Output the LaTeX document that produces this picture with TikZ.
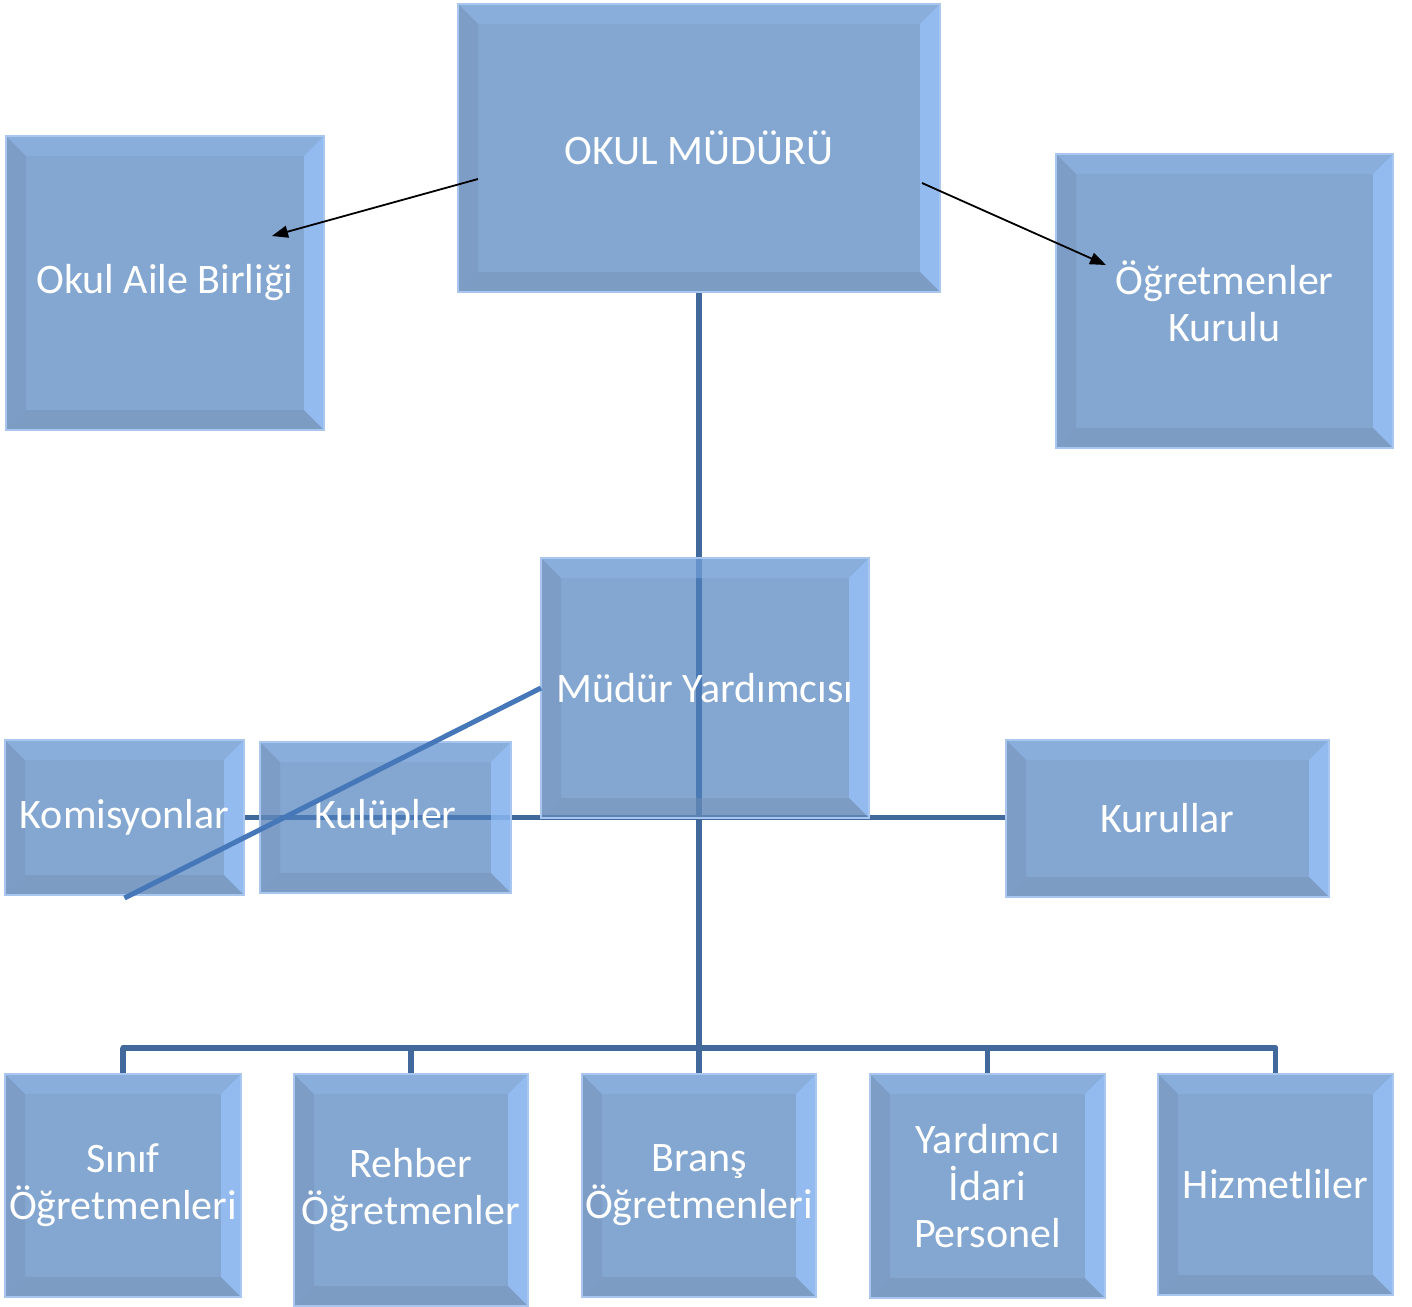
\documentclass[tikz,border=0pt]{standalone}
\usepackage{fontspec}
\setmainfont{Carlito}
\usetikzlibrary{arrows.meta,calc}
\pgfdeclarelayer{background}
\pgfsetlayers{background,main}
\definecolor{boxfill}{HTML}{4F81BD}
\definecolor{boxborder}{HTML}{A9C6EE}
\definecolor{bevtop}{HTML}{92B9EE}
\definecolor{bevright}{HTML}{9CC6FF}
\definecolor{bevleft}{HTML}{7590B8}
\definecolor{bevbottom}{HTML}{7590B5}
\definecolor{treeline}{HTML}{41699C}
\definecolor{diagline}{HTML}{4677B8}
\tikzset{
  orgbox/.style={rectangle, inner sep=0pt, outer sep=0pt,
    fill=boxfill, fill opacity=0.7, text opacity=1,
    draw=boxborder, draw opacity=1, line width=1pt,
    text=white, align=center,
    font=\fontsize{21pt}{23.5pt}\selectfont,
    path picture={
      \fill[bevtop, fill opacity=0.4]
        (path picture bounding box.north west) -- (path picture bounding box.north east)
        -- ([shift={(-10pt,-10pt)}]path picture bounding box.north east)
        -- ([shift={(10pt,-10pt)}]path picture bounding box.north west) -- cycle;
      \fill[bevright, fill opacity=0.65]
        (path picture bounding box.north east) -- (path picture bounding box.south east)
        -- ([shift={(-10pt,10pt)}]path picture bounding box.south east)
        -- ([shift={(-10pt,-10pt)}]path picture bounding box.north east) -- cycle;
      \fill[bevleft, fill opacity=0.4]
        (path picture bounding box.north west) -- (path picture bounding box.south west)
        -- ([shift={(10pt,10pt)}]path picture bounding box.south west)
        -- ([shift={(10pt,-10pt)}]path picture bounding box.north west) -- cycle;
      \fill[bevbottom, fill opacity=0.45]
        (path picture bounding box.south west) -- (path picture bounding box.south east)
        -- ([shift={(-10pt,10pt)}]path picture bounding box.south east)
        -- ([shift={(10pt,10pt)}]path picture bounding box.south west) -- cycle;
    }},
  tree/.style={draw=treeline, line width=2.7pt},
  diag/.style={draw=diagline, line width=2.5pt},
  arr/.style={draw=black, line width=0.9pt, -{Triangle[length=8pt,width=6pt]}}
}
\begin{document}
\begin{tikzpicture}[x=0.5pt,y=-0.5pt]
\useasboundingbox (0,0) rectangle (1412,1306);

\node[orgbox, minimum width=241pt, minimum height=144pt] (okul) at (699,148) {OKUL MÜDÜRÜ};
\node[orgbox, minimum width=159pt, minimum height=147pt] (aile) at (165,283) {Okul Aile Birliği};
\node[orgbox, minimum width=168.5pt, minimum height=147pt] (kurulu) at (1224.5,301) {Öğretmenler\\Kurulu};
\node[orgbox, minimum width=164pt, minimum height=130pt] (my) at (705,688) {Müdür Yardımcısı};
\node[orgbox, minimum width=119.5pt, minimum height=77.5pt] (komis) at (124.5,817.5) {Komisyonlar};
\node[orgbox, minimum width=125.5pt, minimum height=75.5pt] (kulup) at (385.5,817.5) {Kulüpler};
\node[orgbox, minimum width=161.5pt, minimum height=78.5pt] (kurullar) at (1167.5,818.5) {Kurullar};
\node[orgbox, minimum width=118pt, minimum height=111.5pt] (sinif) at (123,1185.5) {Sınıf\\Öğretmenleri};
\node[orgbox, minimum width=117pt, minimum height=116pt] (rehber) at (411,1190) {Rehber\\Öğretmenler};
\node[orgbox, minimum width=117pt, minimum height=111.5pt] (brans) at (699,1185.5) {Branş\\Öğretmenleri};
\node[orgbox, minimum width=117.5pt, minimum height=112pt] (yard) at (987.5,1186) {Yardımcı\\İdari\\Personel};
\node[orgbox, minimum width=117.5pt, minimum height=110.5pt] (hizmet) at (1275.5,1184.5) {Hizmetliler};

\coordinate (bus) at (699,1048);
\coordinate (a1s) at (478,179);
\coordinate (a1e) at (272,236);
\coordinate (a2s) at (922,183);
\coordinate (a2e) at (1106,265);

\begin{pgfonlayer}{background}
  \draw[tree] (okul.south) -- (bus);
  \draw[tree, line cap=round] (sinif.north |- bus) -- (hizmet.north |- bus);
  \foreach \n in {sinif,rehber,brans,yard,hizmet}{
    \draw[tree] (\n.north |- bus) -- (\n.north);
  }
  \draw[tree] (komis.east) -- (kurullar.west |- komis.east);
\end{pgfonlayer}

\draw[diag] (my.west) -- ([yshift=-1.5pt]komis.south);
\draw[arr] (a1s) -- (a1e);
\draw[arr] (a2s) -- (a2e);
\end{tikzpicture}
\end{document}
